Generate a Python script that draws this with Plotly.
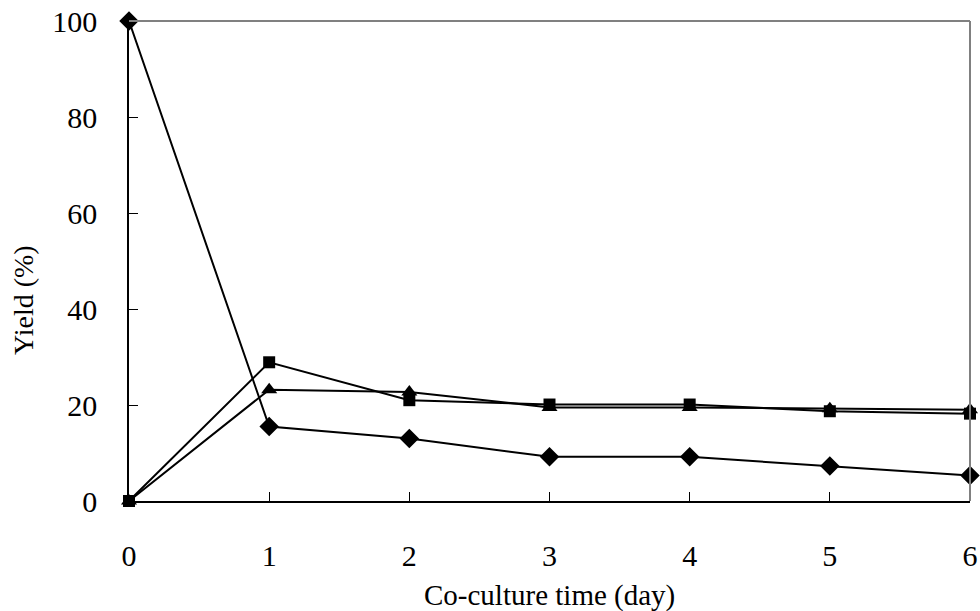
import plotly.graph_objects as go

days = [0, 1, 2, 3, 4, 5, 6]
diamond_vals = [100, 15.5, 13.0, 9.2, 9.2, 7.3, 5.3]
square_vals = [0, 28.9, 21.0, 20.1, 20.1, 18.7, 18.2]
triangle_vals = [0, 23.2, 22.7, 19.5, 19.5, 19.2, 19.0]
y_ticks = [0, 20, 40, 60, 80, 100]
x_title = "Co-culture time (day)"
y_title = "Yield (%)"

font = "Liberation Serif"
fig = go.Figure()
for vals, sym, size in [(triangle_vals, "triangle-up", 14),
                        (square_vals, "square", 12),
                        (diamond_vals, "diamond", 15)]:
    fig.add_trace(go.Scatter(x=days, y=vals, mode="lines+markers",
                             line=dict(color="black", width=2),
                             marker=dict(symbol=sym, size=size, color="black"),
                             cliponaxis=False, showlegend=False))

fig.add_shape(type="line", xref="paper", yref="paper", x0=0, x1=1, y0=1, y1=1,
              line=dict(color="#808080", width=2))
fig.add_shape(type="line", xref="paper", yref="paper", x0=1, x1=1, y0=0, y1=1,
              line=dict(color="#808080", width=2))

fig.add_annotation(text=x_title, xref="paper", yref="paper", x=0.5, y=0,
                   yshift=-94, yanchor="middle", showarrow=False,
                   font=dict(family=font, size=29, color="black"))
fig.add_annotation(text=y_title, xref="paper", yref="paper", x=0, y=0,
                   xshift=-106, yshift=201, xanchor="center", yanchor="middle",
                   textangle=-90, showarrow=False,
                   font=dict(family=font, size=28, color="black"))

fig.update_layout(
    width=980, height=611,
    margin=dict(l=129, r=10, t=21, b=110),
    plot_bgcolor="white", paper_bgcolor="white",
    font=dict(family=font, size=29, color="black"),
    xaxis=dict(range=[0, 6], tickvals=days, ticks="inside", ticklen=9,
               tickcolor="black", showline=True, linecolor="black", linewidth=1.5,
               showgrid=False, zeroline=False, tickfont=dict(size=30),
               ticklabelstandoff=27, automargin=False, ticklabeloverflow="allow"),
    yaxis=dict(range=[0, 100], tickvals=y_ticks, ticks="inside", ticklen=9,
               tickcolor="black", showline=True, linecolor="black", linewidth=1.5,
               showgrid=False, zeroline=False, tickfont=dict(size=30),
               ticklabelstandoff=24, automargin=False, ticklabeloverflow="allow"),
)
fig.write_html("out.html", config={"displayModeBar": False},
               post_script="document.body.style.margin='0';document.body.style.overflow='hidden';")
